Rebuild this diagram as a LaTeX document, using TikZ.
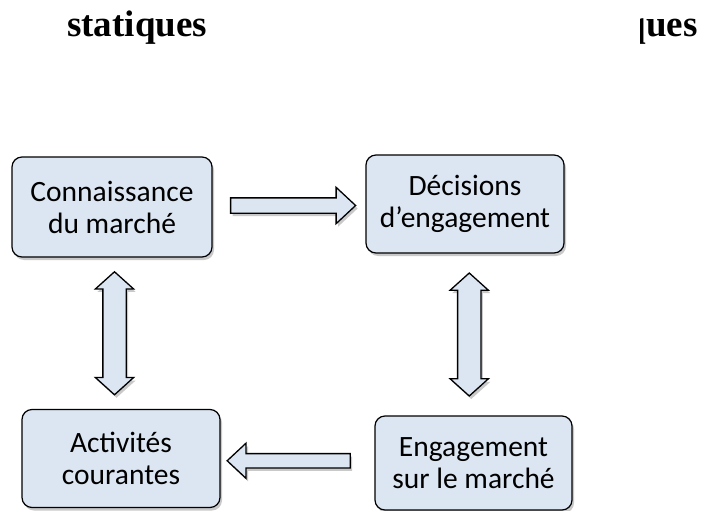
\documentclass[tikz,border=0pt]{standalone}
\usepackage{fontspec}
\setmainfont{Carlito}
\newfontfamily\titlefont{Liberation Serif}
\usetikzlibrary{shapes.arrows,shadows,calc}

\definecolor{boxfill}{HTML}{DCE6F2}

\tikzset{
  ombre/.style={drop shadow={shadow xshift=2pt, shadow yshift=-3pt, opacity=.3, fill=black!70}},
  etape/.style={draw, line width=1.2pt, rounded corners=10pt, fill=boxfill,
    align=center, font=\fontsize{29.5}{32}\selectfont,
    minimum width=198pt, minimum height=98pt, ombre},
  fleche/.style={single arrow, draw, line width=1.3pt, fill=boxfill,
    inner xsep=0pt, inner ysep=7pt, single arrow head extend=10.5pt,
    single arrow tip angle=86, minimum height=125pt, ombre},
  flechedouble/.style={double arrow, draw, line width=1.3pt, fill=boxfill,
    inner xsep=0pt, inner ysep=11pt, double arrow head extend=7.5pt,
    double arrow tip angle=96, minimum height=123pt, rotate=90, ombre},
  titre/.style={font=\titlefont\bfseries\fontsize{37}{42}\selectfont}
}

\begin{document}
\begin{tikzpicture}[x=1pt,y=-1pt]
\useasboundingbox (0,0) rectangle (704,511);

% titres
\node[titre, anchor=base west, inner sep=0pt] (statiques) at (67,37) {statiques};
\begin{scope}
  \clip (640,0) rectangle (704,60);
  \node[titre, anchor=base east, inner sep=0pt] (dynamiques) at (698,37) {ques};
\end{scope}

% etapes
\node[etape, minimum width=200pt, minimum height=100pt] (connaissance) at (112,207) {Connaissance\\du march\'e};
\node[etape] (decisions) at (465,204) {D\'ecisions\\d'engagement};
\node[etape] (activites) at (121,458.5) {Activit\'es\\courantes};
\node[etape, minimum width=197pt, minimum height=94pt] (engagement) at (473.5,463) {Engagement\\sur le march\'e};

% fleches
\node[fleche] (f1) at ($(connaissance.east)!.5!(decisions.west)$) {};
\node[fleche, minimum height=123pt, inner ysep=6.5pt, shape border rotate=180] (f2) at ($(activites.east)!.5!(engagement.west)+(-5,0)$) {};
\node[flechedouble] (f3) at ($(connaissance.south)!.5!(activites.north)+(-2,0)$) {};
\node[flechedouble] (f4) at ($(decisions.south)!.5!(engagement.north)$) {};
\end{tikzpicture}
\end{document}
